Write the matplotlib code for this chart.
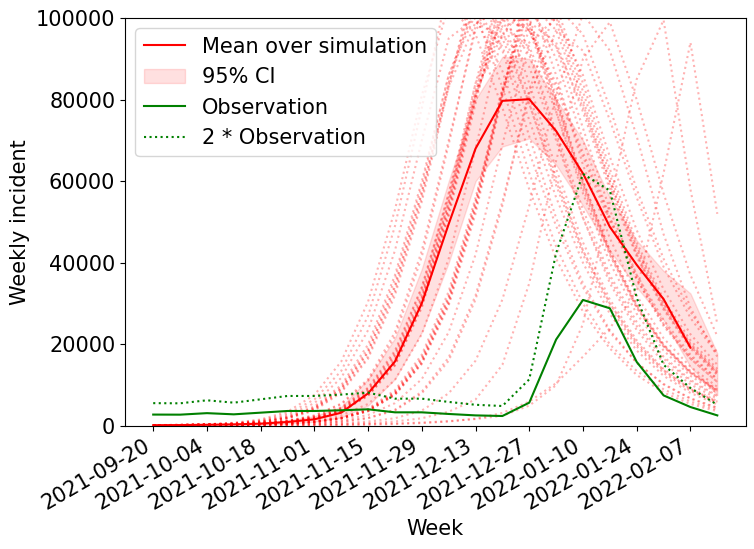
import matplotlib
matplotlib.use("Agg")
import matplotlib.pyplot as plt
import matplotlib.dates as mdates
import numpy as np
import pandas as pd

plt.rcParams['font.family'] = ['DejaVu Sans']
plt.rcParams['font.size'] = 15

weeks = ["2021-09-20", "2021-09-27", "2021-10-04", "2021-10-11", "2021-10-18",
         "2021-10-25", "2021-11-01", "2021-11-08", "2021-11-15", "2021-11-22",
         "2021-11-29", "2021-12-06", "2021-12-13", "2021-12-20", "2021-12-27",
         "2022-01-03", "2022-01-10", "2022-01-17", "2022-01-24", "2022-01-31",
         "2022-02-07", "2022-02-14"]

observation = [2800, 2780, 3150, 2860, 3270, 3680, 3680, 3850, 4090, 3350, 3350,
               2950, 2600, 2450, 5720, 21200, 30900, 28850, 15700, 7500, 4650, 2600]

mean_sim = [200, 230, 300, 400, 570, 980, 1640, 3260, 8000, 15800, 30100, 49500,
            68000, 79700, 80100, 72300, 61900, 48800, 39500, 31100, 19200]

ci_lower = [120, 130, 160, 220, 330, 600, 1050, 2100, 5000, 11500, 23000, 40000,
            60000, 68500, 70500, 64000, 54000, 43000, 34000, 26000, 14500, 7600]
ci_upper = [350, 380, 450, 600, 850, 1400, 2400, 4700, 11500, 21500, 38500, 60000,
            80000, 90500, 90000, 80000, 70000, 56000, 45500, 38000, 32500, 17800]

sim01 = [200, 300, 450, 800, 1600, 3500, 7600, 15800, 30500, 53000, 81000, 103000, 96000, 78000, 58000, 41000, 28000, 19000, 12500, 8200, 5400, 3600]
sim02 = [150, 250, 400, 700, 1400, 3000, 6500, 13500, 27000, 49000, 78000, 108000, 101000, 83000, 62000, 44000, 30000, 20000, 13500, 9000, 6000, 4000]
sim03 = [180, 250, 350, 550, 1000, 2000, 4200, 9000, 18000, 34000, 57000, 84000, 104000, 97000, 79000, 59000, 42000, 29000, 19500, 13000, 8600, 5600]
sim04 = [150, 200, 300, 450, 850, 1800, 3800, 8200, 16500, 32000, 55000, 83000, 110000, 103000, 84000, 63000, 45000, 31000, 21000, 14000, 9300, 6100]
sim05 = [200, 280, 400, 600, 1100, 2300, 4800, 10000, 20000, 37000, 60000, 86000, 101000, 93000, 75000, 56000, 40000, 27500, 18500, 12300, 8100, 5300]
sim06 = [160, 220, 330, 500, 900, 1900, 4000, 8500, 17000, 33000, 56000, 84000, 107000, 100000, 81000, 61000, 43000, 30000, 20000, 13500, 8900, 5800]
sim07 = [170, 240, 360, 520, 950, 2000, 4300, 9100, 18200, 34500, 57500, 83000, 99000, 95000, 79000, 60000, 43000, 30000, 20500, 13700, 9100, 6000]
sim08 = [150, 200, 260, 380, 600, 1000, 1800, 3800, 8000, 16000, 31000, 54000, 82000, 105000, 98000, 80000, 60000, 43000, 30000, 20000, 13500, 9000]
sim09 = [130, 180, 240, 350, 550, 950, 1700, 3500, 7500, 15000, 29500, 52000, 81000, 112000, 105000, 86000, 64000, 46000, 32000, 21500, 14500, 9600]
sim10 = [160, 210, 280, 400, 650, 1100, 2000, 4100, 8600, 17000, 32000, 55000, 81000, 98000, 93000, 77000, 58000, 42000, 29000, 19500, 13000, 8600]
sim11 = [140, 190, 250, 370, 580, 980, 1750, 3600, 7700, 15400, 30000, 53000, 80000, 103000, 97000, 79000, 59000, 42000, 29000, 19500, 13000, 8500]
sim12 = [150, 200, 270, 390, 620, 1050, 1900, 3900, 8200, 16300, 31500, 55000, 84000, 108000, 100000, 81000, 60000, 43000, 29500, 19800, 13200, 8700]
sim13 = [150, 200, 260, 380, 600, 1000, 1800, 3700, 7800, 15600, 30500, 53500, 80500, 101000, 97000, 83000, 66000, 50000, 36000, 25000, 17000, 11500]
sim14 = [140, 190, 250, 360, 570, 960, 1700, 3500, 7400, 14800, 29000, 51500, 79000, 106000, 99000, 80000, 59500, 42500, 29500, 19800, 13200, 8700]
sim15 = [160, 220, 290, 410, 660, 1120, 2050, 4200, 8800, 17500, 33000, 57000, 84000, 100000, 91000, 71000, 51000, 35000, 23500, 15500, 10200, 6700]
sim16 = [120, 160, 210, 290, 420, 650, 1050, 1900, 3800, 8000, 16000, 31000, 54000, 82000, 104000, 97000, 79000, 59000, 42000, 29000, 19500, 13000]
sim17 = [110, 150, 200, 270, 400, 620, 1000, 1800, 3600, 7600, 15200, 29500, 52000, 81000, 110000, 103000, 84000, 63000, 45000, 31000, 21000, 14000]
sim18 = [130, 170, 220, 300, 440, 680, 1100, 2000, 4000, 8400, 16800, 32000, 55000, 82000, 99000, 94000, 77000, 58000, 41500, 28500, 19000, 12500]
sim19 = [120, 160, 210, 290, 420, 650, 1050, 1900, 3700, 7800, 15600, 30500, 53500, 82000, 106000, 99000, 80000, 60000, 42500, 29000, 19500, 12800]
sim20 = [125, 165, 215, 295, 430, 660, 1080, 1950, 3900, 8200, 16400, 31500, 55000, 83000, 102000, 93000, 73000, 53000, 37000, 25000, 16500, 10800]
sim21 = [115, 155, 205, 280, 410, 630, 1020, 1850, 3650, 7700, 15400, 30000, 53000, 81500, 108000, 101000, 82000, 61500, 44000, 30000, 20200, 13400]
sim22 = [100, 130, 170, 220, 300, 430, 650, 1050, 1900, 3800, 8000, 16000, 31000, 54000, 82000, 103000, 96000, 78000, 58000, 41000, 28000, 18000]
sim23 = [110, 140, 180, 235, 320, 460, 700, 1100, 2000, 4000, 8400, 16800, 32000, 55000, 81000, 97000, 92000, 75000, 56000, 39000, 26500, 17500]
sim24 = [90, 110, 140, 180, 240, 330, 470, 700, 1100, 1900, 3800, 8000, 16000, 31000, 54000, 81000, 101000, 92000, 71000, 47000, 29000, 17000]
sim25 = [80, 100, 120, 150, 190, 250, 340, 480, 700, 1100, 1900, 3500, 6500, 15000, 35000, 65000, 90000, 99000, 80000, 57000, 37000, 22000]
sim26 = [70, 85, 100, 120, 150, 190, 250, 330, 450, 620, 850, 1200, 1700, 2500, 5000, 10000, 25000, 55000, 85000, 99500, 58000, 25000]
sim27 = [160, 210, 290, 420, 700, 1300, 2600, 5500, 11500, 23000, 43000, 70000, 97000, 106000, 92000, 72000, 53000, 37000, 25500, 17000, 11300, 7400]
sim28 = [130, 175, 230, 320, 490, 790, 1350, 2600, 5400, 11300, 22500, 41000, 68000, 96000, 104000, 90000, 70000, 51000, 36000, 24500, 16500, 10800]
sim29 = [190, 270, 400, 650, 1250, 2600, 5600, 11800, 23500, 43000, 70000, 95000, 100000, 87000, 67000, 49000, 34000, 23000, 15500, 10300, 6800, 4500]
sim30 = [150, 200, 280, 400, 680, 1250, 2500, 5300, 11000, 22000, 41500, 69000, 98000, 112000, 99000, 77000, 57000, 40000, 27500, 18500, 12300, 8100]
sim31 = [110, 140, 185, 245, 350, 520, 820, 1400, 2700, 5600, 11500, 23000, 42000, 69000, 94000, 100000, 86000, 66000, 48000, 33500, 22500, 15000]
sim32 = [170, 230, 300, 430, 690, 1170, 2150, 4400, 9200, 18000, 34000, 57000, 82000, 96000, 88000, 70000, 51000, 36000, 24500, 16500, 11000, 7200]
sim33 = [60, 70, 85, 100, 120, 150, 190, 250, 340, 470, 700, 1100, 1800, 3200, 6000, 10500, 17000, 24000, 33000, 62000, 94000, 52000]
sim34 = [170, 230, 310, 450, 730, 1250, 2300, 4600, 9400, 18500, 34000, 56000, 81000, 100000, 97000, 84000, 67000, 51000, 37000, 26000, 17500, 11500]
sim35 = [190, 260, 380, 570, 1050, 2150, 4500, 9500, 19000, 36000, 59000, 86000, 103000, 92000, 71000, 51000, 35000, 23500, 15500, 10200, 6700, 4400]
sim36 = [135, 175, 225, 310, 455, 700, 1150, 2100, 4200, 8800, 17500, 33000, 56000, 81000, 97000, 93000, 78000, 60000, 43500, 30000, 20000, 13200]

sims = [sim01, sim02, sim03, sim04, sim05, sim06, sim07, sim08, sim09, sim10,
        sim11, sim12, sim13, sim14, sim15, sim16, sim17, sim18, sim19, sim20,
        sim21, sim22, sim23, sim24, sim25, sim26, sim27, sim28, sim29, sim30,
        sim31, sim32, sim33, sim34, sim35, sim36]

dates = pd.to_datetime(weeks)

fig = plt.figure(figsize=(7.54, 5.49), dpi=100)
ax = fig.add_axes([125 / 754, 1 - 426 / 549, (745.5 - 125) / 754, (426 - 18) / 549])

for s in sims:
    ax.plot(dates, s, color='red', linestyle=':', alpha=0.3, linewidth=1.5)

ax.plot(dates[:len(mean_sim)], mean_sim, color='red', linewidth=1.5,
        label='Mean over simulation')
ax.fill_between(dates, ci_lower, ci_upper, color='red', alpha=0.12, label='95% CI')
ax.plot(dates, observation, color='green', linewidth=1.5, label='Observation')
ax.plot(dates, [2 * v for v in observation], color='green', linestyle=':',
        linewidth=1.5, label='2 * Observation')

ax.set_ylim(0, 100000)
ax.set_xticks(dates[::2])
ax.xaxis.set_major_formatter(mdates.DateFormatter('%Y-%m-%d'))
for lbl in ax.get_xticklabels():
    lbl.set_rotation(30)
    lbl.set_ha('right')
ax.set_xlabel('Week')
ax.set_ylabel('Weekly incident')
ax.legend(loc='upper left')

fig.savefig('out.png', dpi=100)
